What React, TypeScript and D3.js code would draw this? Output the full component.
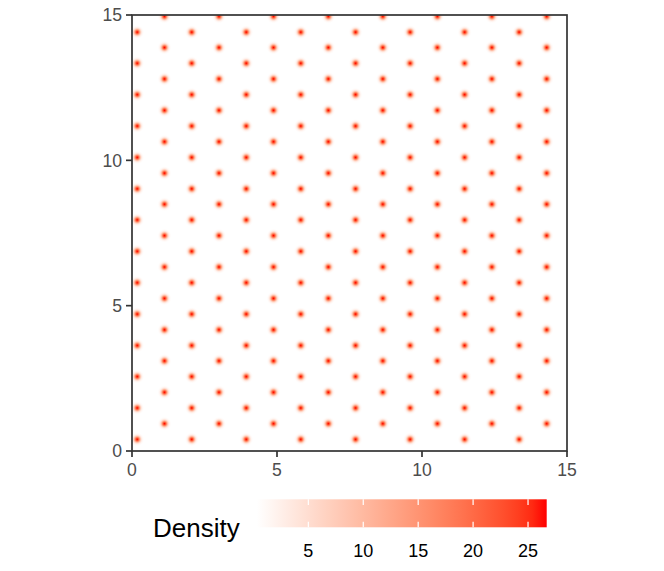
import React from "react";
import * as d3 from "d3";

// Lattice point positions (data units)
const evenColX = [0.18, 2.06, 3.94, 5.82, 7.71, 9.59, 11.47, 13.35];
const oddColX = [1.12, 3.0, 4.88, 6.77, 8.65, 10.53, 12.41, 14.3];
const evenColY = [0.4, 1.48, 2.56, 3.63, 4.71, 5.79, 6.87, 7.95, 9.02, 10.1, 11.18, 12.26, 13.34, 14.41];
const oddColY = [0.94, 2.02, 3.1, 4.17, 5.25, 6.33, 7.41, 8.49, 9.56, 10.64, 11.72, 12.8, 13.88, 14.95];
const axisTicks = [0, 5, 10, 15];
const densityRange = [0.3, 26.7];
const legendTicks = [5, 10, 15, 20, 25];
const kernelSigma = 0.072; // data units

const W = 664;
const H = 571;
const M = { left: 132, right: 567, top: 15, bottom: 451 };

export default function App() {
  const x = d3.scaleLinear().domain([0, 15]).range([M.left, M.right]);
  const y = d3.scaleLinear().domain([0, 15]).range([M.bottom, M.top]);
  const color = d3
    .scaleLinear<string>()
    .domain(densityRange)
    .range(["#FFFFFF", "#FF0000"])
    .interpolate(d3.interpolateLab);

  const points: [number, number][] = [];
  evenColX.forEach((cx) => evenColY.forEach((cy) => points.push([cx, cy])));
  oddColX.forEach((cx) => oddColY.forEach((cy) => points.push([cx, cy])));

  const sigPx = x(kernelSigma) - x(0);
  const R = sigPx * 3.2;
  const stops = d3.range(0, 1.0001, 0.05).map((f) => {
    const r = f * R;
    const dens = densityRange[0] + (densityRange[1] - densityRange[0]) * Math.exp(-(r * r) / (2 * sigPx * sigPx));
    return { off: f, col: color(dens) };
  });

  const lx = d3.scaleLinear().domain(densityRange).range([256.7, 546.7]);
  const legTop = 499.3;
  const legH = 28;
  const gradStops = d3.range(0, 1.0001, 0.05).map((f) => ({
    off: f,
    col: color(densityRange[0] + f * (densityRange[1] - densityRange[0])),
  }));

  const font = "'Liberation Sans', Arial, Helvetica, sans-serif";

  return (
    <svg width={W} height={H} style={{ position: "absolute", left: 0, top: 0 }} fontFamily={font}>
      <defs>
        <radialGradient id="kern" cx="50%" cy="50%" r="50%">
          {stops.map((s, i) => (
            <stop key={i} offset={s.off} stopColor={s.col} />
          ))}
        </radialGradient>
        <linearGradient id="leg" x1="0" x2="1" y1="0" y2="0">
          {gradStops.map((s, i) => (
            <stop key={i} offset={s.off} stopColor={s.col} />
          ))}
        </linearGradient>
        <clipPath id="panel">
          <rect x={M.left} y={M.top} width={M.right - M.left} height={M.bottom - M.top} />
        </clipPath>
      </defs>
      <rect x={0} y={0} width={W} height={H} fill="#FFFFFF" />
      <g clipPath="url(#panel)">
        <rect x={M.left} y={M.top} width={M.right - M.left} height={M.bottom - M.top} fill={color(densityRange[0])} />
        {points.map(([px, py], i) => (
          <circle key={i} cx={x(px)} cy={y(py)} r={R} fill="url(#kern)" />
        ))}
      </g>
      <rect
        x={M.left}
        y={M.top}
        width={M.right - M.left}
        height={M.bottom - M.top}
        fill="none"
        stroke="#333333"
        strokeWidth={1.7}
      />
      {/* y axis */}
      {axisTicks.map((t) => (
        <g key={"y" + t}>
          <line x1={M.left - 6} x2={M.left} y1={y(t)} y2={y(t)} stroke="#333333" strokeWidth={1.7} />
          <text x={M.left - 10} y={y(t)} dy="0.36em" textAnchor="end" fontSize={17.6} fill="#4D4D4D">
            {t}
          </text>
        </g>
      ))}
      {/* x axis */}
      {axisTicks.map((t) => (
        <g key={"x" + t}>
          <line x1={x(t)} x2={x(t)} y1={M.bottom} y2={M.bottom + 6} stroke="#333333" strokeWidth={1.7} />
          <text x={x(t)} y={M.bottom + 25} textAnchor="middle" fontSize={17.6} fill="#4D4D4D">
            {t}
          </text>
        </g>
      ))}
      {/* legend */}
      <text x={153} y={537} fontSize={26} fill="#000000">
        Density
      </text>
      <rect x={lx(densityRange[0])} y={legTop} width={lx(densityRange[1]) - lx(densityRange[0])} height={legH} fill="url(#leg)" />
      {legendTicks.map((t) => (
        <g key={"l" + t}>
          <line x1={lx(t)} x2={lx(t)} y1={legTop} y2={legTop + 5.6} stroke="#FFFFFF" strokeWidth={1.2} />
          <line x1={lx(t)} x2={lx(t)} y1={legTop + legH - 5.6} y2={legTop + legH} stroke="#FFFFFF" strokeWidth={1.2} />
          <text x={lx(t)} y={556.5} textAnchor="middle" fontSize={18} fill="#000000">
            {t}
          </text>
        </g>
      ))}
    </svg>
  );
}
